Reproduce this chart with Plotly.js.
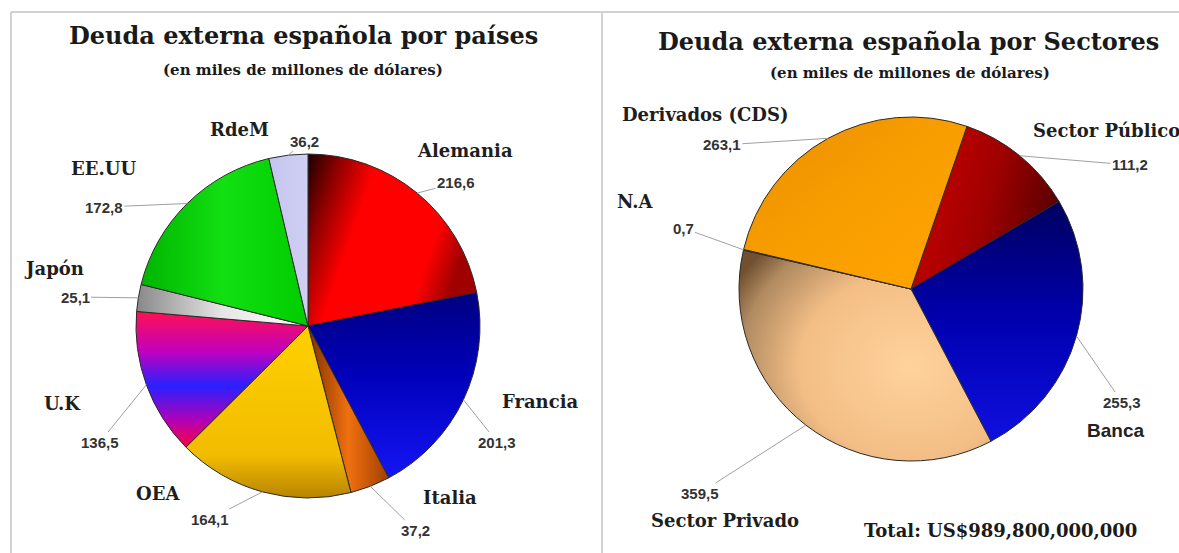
<!DOCTYPE html>
<html>
<head>
<meta charset="utf-8">
<script src="https://cdn.plot.ly/plotly-3.0.1.min.js"></script>
<style>html,body{margin:0;padding:0;background:#fff;}#chart{width:1179px;height:553px;}</style>
</head>
<body>
<div id="chart"></div>
<script>
// ---- DATA ----
var paises = ["Alemania", "Francia", "Italia", "OEA", "U.K", "Japón", "EE.UU", "RdeM"];
var paisesValores = [216.6, 201.3, 37.2, 164.1, 136.5, 25.1, 172.8, 36.2];
var sectores = ["Sector Público", "Banca", "Sector Privado", "N.A", "Derivados (CDS)"];
var sectoresValores = [111.2, 255.3, 359.5, 0.7, 263.1];
var tituloPaises = "Deuda externa española por países";
var tituloSectores = "Deuda externa española por Sectores";
var subtitulo = "(en miles de millones de dólares)";
var totalTexto = "Total: US$989,800,000,000";

// ---- LAYOUT / STYLE ----
var W = 1179, H = 553;
var rotPaises = 0, rotSectores = 19;
var domPaises = {x: [136 / W, 480 / W], y: [1 - 498 / H, 1 - 154 / H]};
var domSectores = {x: [739 / W, 1083 / W], y: [1 - 461 / H, 1 - 117 / H]};
var baseColPaises = ["#f00000", "#0000c0", "#e86a10", "#f2bf00", "#a000c0", "#d0d0d0", "#10d810", "#c8c8f0"];
var baseColSectores = ["#a00000", "#0000b0", "#f0c08a", "#a08060", "#f59a00"];
// text centers (pixels) for value labels and category labels
var valPosPaises = [[456, 183], [497, 442], [415, 530], [210, 519], [100, 442], [75, 297], [104, 207], [304, 141]];
var catPosPaises = [[465, 150], [540, 401], [450, 497], [158, 493], [62, 403], [54, 268], [103, 168], [239, 129]];
var valPosSectores = [[1130, 165], [1122, 402], [700, 493], [683, 228], [722, 145]];
var catPosSectores = [[1106, 130], [1115, 430], [725, 520], [635, 201], [705, 115]];
var catSansSectores = [false, true, false, false, false];

var gradPaises = [
  {t: 'l', c: [0, 0, 1, 0.35], s: [[0, '#1a0000'], [0.18, '#900000'], [0.38, '#ff0000'], [0.82, '#ff0000'], [1, '#a00000']]},
  {t: 'l', c: [0, 0, 0, 1], s: [[0, '#000080'], [0.45, '#0000bb'], [1, '#1515f5']]},
  {t: 'l', c: [0, 0, 1, 0], s: [[0, '#803000'], [0.5, '#f07010'], [1, '#a04000']]},
  {t: 'l', c: [0, 0, 0, 1], s: [[0, '#ffd000'], [0.75, '#f2bc00'], [1, '#b88400']]},
  {t: 'l', c: [0, 0, 0, 1], s: [[0, '#ff1050'], [0.3, '#c000c0'], [0.55, '#2a20ff'], [0.8, '#b000b8'], [1, '#ff0040']]},
  {t: 'l', c: [0, 0, 1, 0], s: [[0, '#888888'], [0.5, '#e6e6e6'], [1, '#ffffff']]},
  {t: 'l', c: [0, 0, 1, 0], s: [[0, '#00b400'], [0.5, '#12e012'], [1, '#00cc00']]},
  {t: 'l', c: [0, 0, 1, 0], s: [[0, '#c4c4ee'], [1, '#d0d0f4']]}
];
var gradSectores = [
  {t: 'l', c: [0, 0, 1, 0.3], s: [[0, '#d00000'], [0.6, '#a00000'], [1, '#600000']]},
  {t: 'l', c: [0, 0, 0, 1], s: [[0, '#000060'], [0.5, '#0000b0'], [1, '#1010e0']]},
  {t: 'r', c: [0.68, 0.55, 0.8], s: [[0, '#ffd29c'], [0.55, '#f3be86'], [0.85, '#b08a60'], [1, '#705030']]},
  {t: 'l', c: [0, 0, 1, 0], s: [[0, '#a08060'], [1, '#a08060']]},
  {t: 'l', c: [0, 0, 1, 1], s: [[0, '#e88e00'], [0.5, '#f99e00'], [1, '#ffa400']]}
];

function fmt(v) { return v.toFixed(1).replace('.', ','); }

function pieTrace(labels, values, dom, rot, cols) {
  return {
    type: 'pie', labels: labels, values: values, domain: dom, rotation: rot,
    direction: 'clockwise', sort: false, textinfo: 'none', hoverinfo: 'none',
    marker: {colors: cols, line: {color: '#2a2a2a', width: 1}}
  };
}

var annotations = [];
var serif = 'DejaVu Serif, Georgia, serif';
var sans = 'Liberation Sans, Arial, sans-serif';
var valFont = {family: sans, size: 15, color: '#333333', weight: 'bold'};
var catFont = {family: serif, size: 18, color: '#1e1e1e', weight: 'bold'};
var catSansFont = {family: sans, size: 19, color: '#222222', weight: 'bold'};

function txt(x, y, text, font) {
  return {x: x / W, y: 1 - y / H, xref: 'paper', yref: 'paper', text: text, showarrow: false,
    xanchor: 'center', yanchor: 'middle', font: font};
}

function addLabels(labels, values, dom, rot, valPos, catPos, sansFlags) {
  var total = values.reduce(function (a, b) { return a + b; }, 0);
  var cx = W * (dom.x[0] + dom.x[1]) / 2;
  var cy = H * (1 - (dom.y[0] + dom.y[1]) / 2);
  var r = Math.min(W * (dom.x[1] - dom.x[0]), H * (dom.y[1] - dom.y[0])) / 2;
  var cum = 0;
  for (var i = 0; i < values.length; i++) {
    var mid = (rot + (cum + values[i] / 2) / total * 360) * Math.PI / 180;
    cum += values[i];
    var ex = cx + r * Math.sin(mid), ey = cy - r * Math.cos(mid);
    annotations.push({
      x: ex / W, y: 1 - ey / H, xref: 'paper', yref: 'paper',
      ax: valPos[i][0] - ex, ay: valPos[i][1] - ey,
      text: fmt(values[i]), showarrow: true, arrowhead: 0, arrowwidth: 1,
      arrowcolor: '#a0a0a0', standoff: 0, font: valFont
    });
    annotations.push(txt(catPos[i][0], catPos[i][1], labels[i],
      (sansFlags && sansFlags[i]) ? catSansFont : catFont));
  }
}
addLabels(paises, paisesValores, domPaises, rotPaises, valPosPaises, catPosPaises, null);
addLabels(sectores, sectoresValores, domSectores, rotSectores, valPosSectores, catPosSectores, catSansSectores);

var titleFont = {family: serif, size: 24, color: '#1a1a1a', weight: 'bold'};
var subFont = {family: serif, size: 15, color: '#1a1a1a', weight: 'bold'};
annotations.push(txt(303, 35, tituloPaises, titleFont));
annotations.push(txt(303, 70, subtitulo, subFont));
annotations.push(txt(908, 42, tituloSectores, titleFont));
annotations.push(txt(910, 73, subtitulo, subFont));
annotations.push(txt(1000, 530, totalTexto, {family: serif, size: 18, color: '#1a1a1a', weight: 'bold'}));

var frame = {type: 'line', xref: 'paper', yref: 'paper', line: {color: '#d2d2d2', width: 2}};
var shapes = [
  Object.assign({}, frame, {x0: 11 / W, x1: 1, y0: 1 - 12 / H, y1: 1 - 12 / H}),
  Object.assign({}, frame, {x0: 11 / W, x1: 11 / W, y0: 0, y1: 1 - 12 / H}),
  Object.assign({}, frame, {x0: 602 / W, x1: 602 / W, y0: 0, y1: 1 - 12 / H})
];

var data = [
  pieTrace(paises, paisesValores, domPaises, rotPaises, baseColPaises),
  pieTrace(sectores, sectoresValores, domSectores, rotSectores, baseColSectores)
];
var layout = {
  width: W, height: H, margin: {l: 0, r: 0, t: 0, b: 0},
  paper_bgcolor: '#ffffff', showlegend: false,
  annotations: annotations, shapes: shapes
};

Plotly.newPlot('chart', data, layout, {staticPlot: true, displayModeBar: false}).then(function (gd) {
  var NS = 'http://www.w3.org/2000/svg';
  var svg = gd.querySelector('svg.main-svg');
  var defs = svg.querySelector('defs') || svg.insertBefore(document.createElementNS(NS, 'defs'), svg.firstChild);
  function makeGrad(id, g) {
    var el;
    if (g.t === 'r') {
      el = document.createElementNS(NS, 'radialGradient');
      el.setAttribute('cx', g.c[0]); el.setAttribute('cy', g.c[1]); el.setAttribute('r', g.c[2]);
    } else {
      el = document.createElementNS(NS, 'linearGradient');
      el.setAttribute('x1', g.c[0]); el.setAttribute('y1', g.c[1]);
      el.setAttribute('x2', g.c[2]); el.setAttribute('y2', g.c[3]);
    }
    el.setAttribute('id', id);
    g.s.forEach(function (st) {
      var s = document.createElementNS(NS, 'stop');
      s.setAttribute('offset', st[0]); s.setAttribute('stop-color', st[1]);
      el.appendChild(s);
    });
    defs.appendChild(el);
  }
  var grads = [gradPaises, gradSectores];
  var traces = gd.querySelectorAll('.pielayer .trace');
  traces.forEach(function (t, ti) {
    t.querySelectorAll('path.surface').forEach(function (p, i) {
      var id = 'grad_' + ti + '_' + i;
      makeGrad(id, grads[ti][i]);
      p.style.fill = 'url(#' + id + ')';
    });
  });
});
</script>
</body>
</html>
